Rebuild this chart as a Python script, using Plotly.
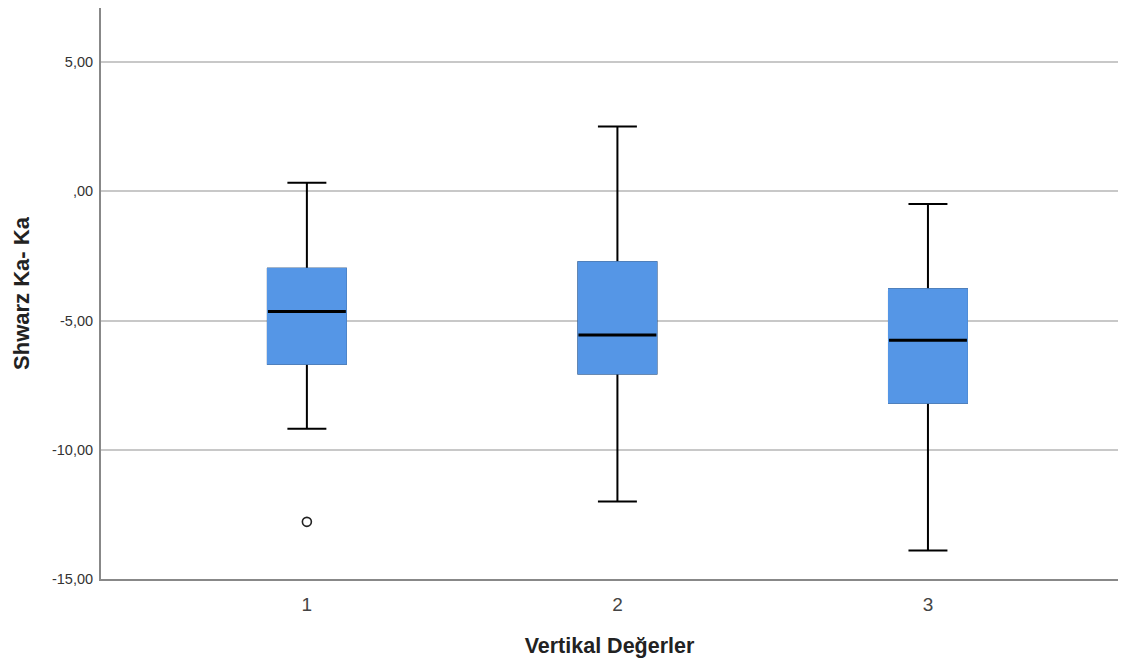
import plotly.graph_objects as go

categories = [1, 2, 3]
tick_labels = ["1", "2", "3"]
lower_whisker = [-9.19, -12.00, -13.90]
q1 = [-6.67, -7.05, -8.18]
median = [-4.65, -5.56, -5.76]
q3 = [-3.00, -2.75, -3.79]
upper_whisker = [0.33, 2.51, -0.49]
outlier_x = [1]
outlier_y = [-12.79]

y_tickvals = [-15, -10, -5, 0, 5]
y_ticktext = ["-15,00", "-10,00", "-5,00", ",00", "5,00"]

BLUE = "#5596e6"
BW = 0.251

fig = go.Figure()

# whiskers, caps
fig.add_trace(go.Box(
    x=categories, q1=q1, median=median, q3=q3,
    lowerfence=lower_whisker, upperfence=upper_whisker,
    width=BW, whiskerwidth=0.5, fillcolor=BLUE,
    line=dict(color="black", width=2), boxpoints=False,
    hoverinfo="skip", showlegend=False,
))
# box body without black outline
fig.add_trace(go.Box(
    x=categories, q1=q1, median=q1, q3=q3,
    lowerfence=q1, upperfence=q3,
    width=BW, whiskerwidth=0, fillcolor=BLUE,
    line=dict(color=BLUE, width=2), boxpoints=False,
    hoverinfo="skip", showlegend=False,
))
# median line
fig.add_trace(go.Box(
    x=categories, q1=median, median=median, q3=median,
    lowerfence=median, upperfence=median,
    width=BW, whiskerwidth=0, fillcolor="rgba(0,0,0,0)",
    line=dict(color="black", width=3), boxpoints=False,
    hoverinfo="skip", showlegend=False,
))
# outlier
fig.add_trace(go.Scatter(
    x=outlier_x, y=outlier_y, mode="markers",
    marker=dict(symbol="circle-open", size=9, color="#222", line=dict(width=1.6)),
    hoverinfo="skip", showlegend=False,
))

fig.update_layout(
    width=1124, height=656,
    margin=dict(l=93, r=14, t=0, b=85),
    paper_bgcolor="white", plot_bgcolor="white",
    boxmode="overlay",
    font=dict(family="Arial, Liberation Sans", color="#333"),
    xaxis=dict(
        range=[0.337, 3.612], tickvals=categories, ticktext=tick_labels,
        showgrid=False, zeroline=False, showline=True, linecolor="#888", linewidth=2,
        ticks="", tickfont=dict(size=19, color="#444"), automargin=False,
        ticklabelstandoff=7,
        title=dict(text="Vertikal Değerler", font=dict(size=21.5, color="#222", weight="bold"), standoff=24),
    ),
    yaxis=dict(
        range=[-15, 7.09], tickvals=y_tickvals, ticktext=y_ticktext,
        showgrid=True, gridcolor="#c8c8c8", gridwidth=1.5, zeroline=False,
        showline=True, linecolor="#888", linewidth=2,
        ticks="", tickfont=dict(size=14.5, color="#333"), automargin=False,
        ticklabelstandoff=3,
        title=dict(text="Shwarz Ka- Ka", font=dict(size=22, color="#222", weight="bold"), standoff=16),
    ),
)

fig.write_html("out.html")
